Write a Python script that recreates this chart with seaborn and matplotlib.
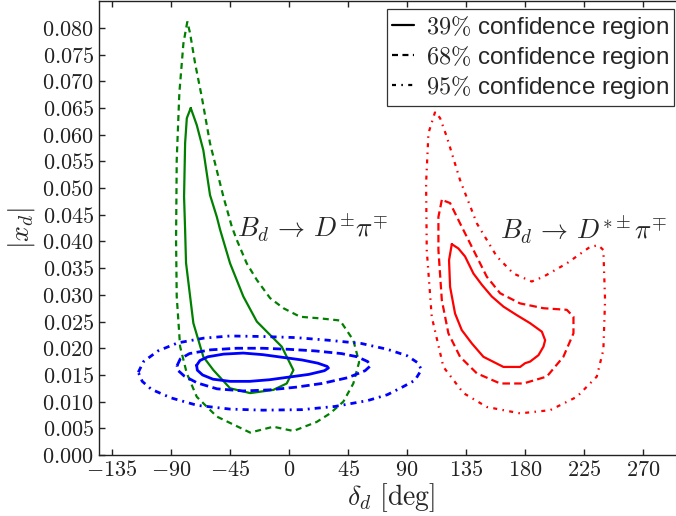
import numpy as np
import pandas as pd
import matplotlib
matplotlib.use("Agg")
import matplotlib.pyplot as plt
from matplotlib.lines import Line2D
from matplotlib.ticker import FuncFormatter
import seaborn as sns

# ---------------- data (delta_d [deg], |x_d|) ----------------
green_39_x = [-75.0, -78.0, -79.3, -80.1, -79.3, -78.6, -73.0, -65.4, -57.7, -45.0, -29.7, -12.0,
              -1.8, 3.3, -5.6, -24.6, -34.9, -45.0, -52.6, -55.1, -60.3, -65.4, -70.4]
green_39_y = [0.0650, 0.0631, 0.0584, 0.0484, 0.0422, 0.0360, 0.0247, 0.0184, 0.0159, 0.0125, 0.0116, 0.0122,
              0.0134, 0.0159, 0.0203, 0.0250, 0.0297, 0.0359, 0.0422, 0.0446, 0.0487, 0.0571, 0.0618]

green_68_x = [-77.6, -80.6, -83.7, -85.7, -86.2, -85.7, -83.1, -78.0, -70.4, -55.1, -29.7, -12.0, 3.3,
              21.1, 31.3, 41.4, 49.0, 53.4, 49.0, 38.9, 23.6, 8.4, -4.3, -14.5, -24.6, -32.3, -39.9,
              -43.7, -50.1, -60.3, -66.6, -71.7, -75.5]
green_68_y = [0.0812, 0.0771, 0.0678, 0.0553, 0.0403, 0.0297, 0.0203, 0.0153, 0.0109, 0.0072, 0.0042, 0.0053, 0.0045,
              0.0062, 0.0078, 0.0100, 0.0134, 0.0174, 0.0215, 0.0252, 0.0256, 0.0259, 0.0275, 0.0294, 0.0328, 0.0359, 0.0403,
              0.0428, 0.0484, 0.0584, 0.0671, 0.0734, 0.0790]

blue_39_x = [-70.5, -68, -62, -50, -35, -20, -5, 10, 22, 29, 30, 27, 15, 0, -15, -30, -45, -58, -66, -70]
blue_39_y = [0.0168, 0.0177, 0.0184, 0.0189, 0.0191, 0.0188, 0.0183, 0.0178, 0.0172, 0.0166, 0.0163, 0.0158,
             0.0151, 0.0146, 0.0141, 0.0138, 0.0138, 0.0142, 0.0150, 0.0159]

blue_68_x = [-85.5, -83, -76, -60, -40, -20, 0, 20, 40, 52, 60, 62, 58, 45, 25, 5, -15, -35, -55, -70, -80, -84.5]
blue_68_y = [0.0167, 0.0180, 0.0190, 0.0197, 0.0200, 0.0200, 0.0198, 0.0195, 0.0190, 0.0184, 0.0175, 0.0167,
             0.0158, 0.0145, 0.0134, 0.0127, 0.0122, 0.0120, 0.0124, 0.0135, 0.0148, 0.0158]

blue_95_x = [-115, -111, -100, -85, -65, -45, -20, 5, 30, 55, 75, 90, 98, 101, 96, 87, 75, 60, 35, 10,
             -20, -45, -70, -90, -105, -112]
blue_95_y = [0.0155, 0.0175, 0.0195, 0.0210, 0.0219, 0.0223, 0.0222, 0.0220, 0.0215, 0.0209, 0.0198, 0.0186,
             0.0173, 0.0160, 0.0140, 0.0128, 0.0113, 0.0102, 0.0091, 0.0085, 0.0084, 0.0086, 0.0093, 0.0107,
             0.0123, 0.0138]

red_39_x = [124.1, 122.0, 122.8, 126.6, 131.7, 139.4, 148.2, 163.5, 176.2, 180.0, 183.8, 190.2, 194.0,
            195.3, 192.8, 183.8, 173.7, 163.5, 154.6, 147.0, 140.6, 134.2, 129.1]
red_39_y = [0.0395, 0.0365, 0.0315, 0.0265, 0.0234, 0.0209, 0.0184, 0.0165, 0.0165, 0.0172, 0.0175, 0.0187, 0.0203,
            0.0215, 0.0231, 0.0247, 0.0262, 0.0278, 0.0297, 0.0319, 0.0340, 0.0372, 0.0387]

red_68_x = [116.5, 113.9, 113.9, 116.5, 121.5, 130.4, 143.2, 161.0, 178.7, 196.6, 209.2, 216.9, 216.9,
            211.8, 194.0, 176.2, 161.0, 150.8, 140.6, 130.4, 122.8]
red_68_y = [0.0478, 0.0446, 0.0384, 0.0290, 0.0228, 0.0184, 0.0153, 0.0134, 0.0134, 0.0147, 0.0184, 0.0228, 0.0259,
            0.0272, 0.0275, 0.0284, 0.0303, 0.0334, 0.0384, 0.0434, 0.0472]

red_95_x = [111.4, 106.3, 104.5, 105.0, 108.8, 117.7, 133.0, 150.8, 176.2, 199.1, 219.5, 234.7, 239.7,
            241.0, 239.7, 235.9, 229.6, 211.8, 194.0, 185.1, 171.1, 158.4, 143.2, 130.4, 120.3, 115.2]
red_95_y = [0.0643, 0.0603, 0.0509, 0.0384, 0.0259, 0.0165, 0.0116, 0.0090, 0.0078, 0.0084, 0.0109, 0.0147, 0.0197,
            0.0290, 0.0384, 0.0393, 0.0390, 0.0359, 0.0334, 0.0325, 0.0340, 0.0372, 0.0434, 0.0515, 0.0596, 0.0631]

x_ticks = [-135, -90, -45, 0, 45, 90, 135, 180, 225, 270]
y_ticks = [0.000, 0.005, 0.010, 0.015, 0.020, 0.025, 0.030, 0.035, 0.040,
           0.045, 0.050, 0.055, 0.060, 0.065, 0.070, 0.075, 0.080]
legend_labels = [r"$39\%$ confidence region", r"$68\%$ confidence region", r"$95\%$ confidence region"]
label_green = r"$B_d\,\rightarrow\,D^{\pm}\pi^{\mp}$"
label_red = r"$B_d\,\rightarrow\,D^{*\pm}\pi^{\mp}$"

# ---------------- style ----------------
sns.set_style("ticks")
plt.rcParams["font.family"] = ["Liberation Sans", "DejaVu Sans"]
plt.rcParams["mathtext.fontset"] = "cm"
plt.rcParams["xtick.direction"] = "in"
plt.rcParams["ytick.direction"] = "in"
plt.rcParams["xtick.top"] = True
plt.rcParams["ytick.right"] = True

fig = plt.figure(figsize=(6.76, 5.16), dpi=100)
ax = fig.add_axes([0.1464, 0.1182, 0.8631, 0.8793])

DASH_G = (0, (2.7, 2.0))
DASH_B = (0, (3.0, 1.6))
DASH_R = (0, (3.4, 1.9))
DD_B = (0, (2.2, 1.8, 0.7, 1.8))
DD_R = (0, (1.8, 2.4, 0.7, 2.4))

contours = [
    (green_39_x, green_39_y, "green", "-", 1.6),
    (green_68_x, green_68_y, "green", DASH_G, 1.6),
    (blue_95_x, blue_95_y, "blue", DD_B, 2.0),
    (blue_68_x, blue_68_y, "blue", DASH_B, 2.0),
    (blue_39_x, blue_39_y, "blue", "-", 2.0),
    (red_39_x, red_39_y, "red", "-", 1.6),
    (red_68_x, red_68_y, "red", DASH_R, 1.6),
    (red_95_x, red_95_y, "red", DD_R, 1.6),
]
for xs, ys, c, ls, lw in contours:
    xs_c = list(xs) + [xs[0]]
    ys_c = list(ys) + [ys[0]]
    sns.lineplot(x=xs_c, y=ys_c, sort=False, estimator=None, color=c,
                 linestyle=ls, linewidth=lw, ax=ax)

ax.set_xlim(-145, 300)
ax.set_ylim(0, 0.085)
ax.set_xticks(x_ticks)
ax.set_yticks(y_ticks)
ax.xaxis.set_major_formatter(FuncFormatter(lambda v, p: r"$%d$" % v))
ax.yaxis.set_major_formatter(FuncFormatter(lambda v, p: r"$%.3f$" % v))
ax.tick_params(axis="both", which="major", labelsize=16, length=4, width=1, colors="#222222",
               labelcolor="#222222")
for s in ax.spines.values():
    s.set_color("#222222")
    s.set_linewidth(1.0)

ax.set_xlabel(r"$\delta_d\ [\mathrm{deg}]$", fontsize=20, labelpad=0)
ax.set_ylabel(r"$|x_d|$", fontsize=20, labelpad=4)

ax.text(-40.0, 0.0425, label_green, fontsize=19.5, va="center", ha="left")
ax.text(161.0, 0.0422, label_red, fontsize=19.5, va="center", ha="left")

handles = [Line2D([0], [0], color="black", linestyle=ls, linewidth=1.6)
           for ls in ["-", (0, (2.7, 2.0)), (0, (1.8, 2.4, 0.7, 2.4))]]
leg = ax.legend(handles, legend_labels, loc="upper left",
                bbox_to_anchor=(387 / 676, 1 - 9 / 516), bbox_transform=fig.transFigure,
                fontsize=17.5, frameon=True, fancybox=False, edgecolor="black",
                handlelength=0.9, borderaxespad=0.0, labelspacing=0.12, borderpad=0.2,
                handletextpad=0.5)
leg.get_frame().set_linewidth(0.9)

fig.savefig("out.png", dpi=100)
